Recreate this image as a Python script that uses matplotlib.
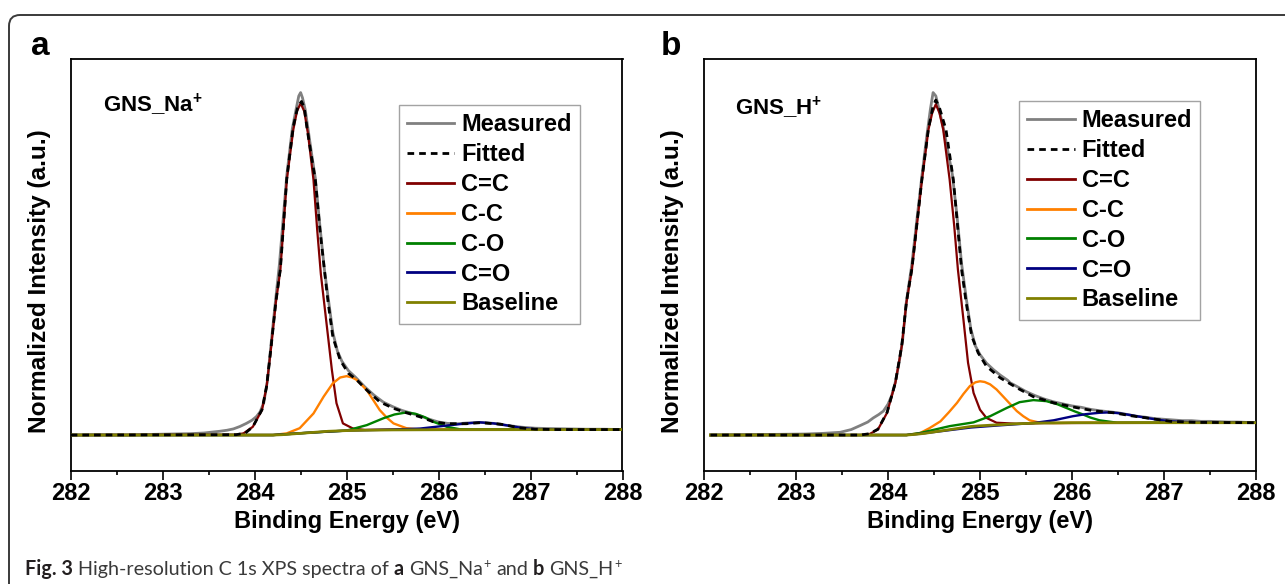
import matplotlib
matplotlib.use('Agg')
import matplotlib.pyplot as plt
from matplotlib.patches import FancyBboxPatch
from matplotlib.lines import Line2D
from matplotlib.ticker import MultipleLocator
from matplotlib.transforms import IdentityTransform

plt.rcParams['font.family'] = ['Liberation Sans', 'DejaVu Sans']
plt.rcParams['font.weight'] = 'bold'
plt.rcParams['mathtext.fontset'] = 'custom'
plt.rcParams['mathtext.rm'] = 'Liberation Sans:bold'
plt.rcParams['mathtext.bf'] = 'Liberation Sans:bold'
plt.rcParams['mathtext.it'] = 'Liberation Sans:bold'

# ---------------- Panel a : GNS_Na+ ----------------
a_meas_E = [282.0, 282.3, 282.6, 282.9, 283.1, 283.3, 283.45, 283.55, 283.62, 283.7, 283.77, 283.84,
            283.91, 283.97, 284.02, 284.06, 284.1, 284.14, 284.18, 284.23, 284.27, 284.31, 284.35,
            284.41, 284.45, 284.48, 284.5, 284.52, 284.55, 284.58, 284.62, 284.66, 284.71, 284.76,
            284.8, 284.85, 284.9, 284.95, 285.02, 285.1, 285.2, 285.3, 285.4, 285.5, 285.6, 285.7,
            285.8, 285.9, 286.0, 286.1, 286.2, 286.3, 286.45, 286.6, 286.75, 286.9, 287.05, 287.2,
            287.4, 287.6, 287.8, 288.0]
a_meas_I = [0.000, 0.001, 0.000, 0.002, 0.003, 0.004, 0.006, 0.009, 0.011, 0.014, 0.018, 0.025,
            0.034, 0.043, 0.054, 0.068, 0.095, 0.16, 0.27, 0.40, 0.50, 0.63, 0.76,
            0.895, 0.95, 0.99, 1.0, 0.985, 0.95, 0.895, 0.82, 0.75, 0.61, 0.48,
            0.40, 0.30, 0.245, 0.215, 0.188, 0.168, 0.14, 0.116, 0.096, 0.083, 0.072, 0.064,
            0.056, 0.046, 0.038, 0.034, 0.033, 0.035, 0.037, 0.034, 0.028, 0.023, 0.020, 0.019,
            0.018, 0.017, 0.017, 0.016]

a_fit_E = [282.0, 283.8, 283.9, 283.98, 284.08, 284.13, 284.18, 284.23, 284.28, 284.35, 284.42,
           284.47, 284.51, 284.54, 284.57, 284.62, 284.66, 284.71, 284.77, 284.8, 284.85, 284.93,
           285.02, 285.11, 285.22, 285.36, 285.51, 285.65, 285.8, 285.94, 286.09, 286.3, 286.45,
           286.67, 286.88, 287.05, 287.3, 288.0]
a_fit_I = [0.0, 0.001, 0.006, 0.024, 0.074, 0.142, 0.26, 0.387, 0.485, 0.75, 0.90,
           0.96, 0.974, 0.955, 0.895, 0.81, 0.745, 0.60, 0.455, 0.385, 0.287, 0.219,
           0.18, 0.161, 0.131, 0.097, 0.078, 0.065, 0.053, 0.039, 0.033, 0.033, 0.036,
           0.032, 0.021, 0.017, 0.016, 0.016]

a_cc_E = [282.0, 283.8, 283.88, 283.98, 284.08, 284.13, 284.18, 284.23, 284.28, 284.35, 284.42,
          284.46, 284.5, 284.54, 284.58, 284.64, 284.68, 284.72, 284.78, 284.84, 284.89, 284.96,
          285.07, 285.2, 285.5, 288.0]
a_cc_I = [0.0, 0.001, 0.005, 0.024, 0.073, 0.141, 0.258, 0.385, 0.482, 0.745, 0.891,
          0.945, 0.969, 0.945, 0.88, 0.745, 0.60, 0.47, 0.33, 0.19, 0.093, 0.034,
          0.019, 0.015, 0.016, 0.016]

a_c_c_E = [282.0, 284.2, 284.35, 284.49, 284.64, 284.75, 284.85, 284.93, 285.0, 285.06, 285.11,
           285.22, 285.29, 285.36, 285.44, 285.51, 285.65, 285.8, 288.0]
a_c_c_I = [0.0, 0.0, 0.005, 0.02, 0.063, 0.112, 0.151, 0.168, 0.172, 0.168, 0.161,
           0.131, 0.102, 0.073, 0.05, 0.034, 0.02, 0.016, 0.016]

a_co_E = [282.0, 284.2, 284.6, 285.0, 285.22, 285.4, 285.52, 285.65, 285.75, 285.85, 285.94,
          286.09, 286.23, 286.4, 288.0]
a_co_I = [0.0, 0.0, 0.007, 0.013, 0.029, 0.049, 0.06, 0.066, 0.062, 0.052, 0.039,
          0.024, 0.017, 0.016, 0.016]

a_cdo_E = [282.0, 284.2, 284.6, 285.0, 285.5, 285.8, 286.0, 286.2, 286.35, 286.45, 286.6,
           286.75, 286.9, 287.05, 287.3, 288.0]
a_cdo_I = [0.0, 0.0, 0.007, 0.013, 0.016, 0.019, 0.025, 0.031, 0.035, 0.037, 0.034,
           0.028, 0.021, 0.017, 0.016, 0.016]

a_base_E = [282.0, 284.2, 284.3, 284.4, 284.5, 284.6, 284.7, 284.8, 284.9, 285.0, 285.2, 285.5,
            286.0, 288.0]
a_base_I = [0.0, 0.0, 0.001, 0.003, 0.005, 0.007, 0.009, 0.011, 0.012, 0.013, 0.014, 0.015,
            0.0155, 0.016]

# ---------------- Panel b : GNS_H+ ----------------
b_meas_E = [282.07, 282.4, 282.8, 283.1, 283.3, 283.48, 283.6, 283.7, 283.78, 283.84, 283.9, 283.95,
            284.0, 284.04, 284.08, 284.12, 284.16, 284.2, 284.26, 284.31, 284.37, 284.42, 284.46,
            284.49, 284.52, 284.56, 284.6, 284.65, 284.7, 284.75, 284.8, 284.85, 284.9, 284.95,
            285.0, 285.07, 285.15, 285.22, 285.3, 285.33, 285.36, 285.4, 285.5, 285.6, 285.7,
            285.8, 285.9, 286.0, 286.1, 286.2, 286.3, 286.4, 286.5, 286.6, 286.7, 286.8, 286.9,
            287.0, 287.1, 287.2, 287.3, 287.4, 287.5, 287.6, 287.7, 287.8, 287.9, 288.0]
b_meas_I = [0.0, 0.001, 0.002, 0.003, 0.005, 0.008, 0.016, 0.028, 0.038, 0.05, 0.06, 0.07,
            0.09, 0.115, 0.155, 0.21, 0.28, 0.39, 0.50, 0.62, 0.76, 0.87, 0.95,
            1.0, 0.99, 0.945, 0.9, 0.83, 0.76, 0.64, 0.50, 0.40, 0.31, 0.26,
            0.235, 0.21, 0.19, 0.175, 0.16, 0.152, 0.148, 0.142, 0.127, 0.115, 0.105,
            0.097, 0.091, 0.085, 0.081, 0.075, 0.071, 0.068, 0.065, 0.06, 0.055, 0.052, 0.048,
            0.046, 0.044, 0.042, 0.042, 0.04, 0.040, 0.039, 0.038, 0.038, 0.037, 0.037]

b_fit_E = [282.07, 283.7, 283.8, 283.89, 283.99, 284.08, 284.15, 284.2, 284.26, 284.37, 284.44,
           284.49, 284.52, 284.56, 284.63, 284.71, 284.76, 284.8, 284.85, 284.91, 284.98, 285.07,
           285.22, 285.4, 285.58, 285.8, 286.01, 286.23, 286.45, 286.65, 286.81, 287.07, 287.36,
           288.0]
b_fit_I = [0.0, 0.0, 0.004, 0.017, 0.066, 0.153, 0.262, 0.388, 0.486, 0.75, 0.895,
           0.96, 0.978, 0.955, 0.892, 0.746, 0.6, 0.483, 0.386, 0.289, 0.24, 0.201,
           0.167, 0.138, 0.112, 0.094, 0.082, 0.071, 0.065, 0.056, 0.05, 0.04, 0.037,
           0.036]

b_cc_E = [282.07, 283.7, 283.8, 283.89, 283.99, 284.08, 284.15, 284.2, 284.26, 284.37, 284.44,
          284.48, 284.52, 284.56, 284.6, 284.67, 284.72, 284.76, 284.82, 284.87, 284.93, 285.0,
          285.07, 285.18, 285.4, 285.7, 288.0]
b_cc_I = [0.0, 0.0, 0.003, 0.016, 0.065, 0.152, 0.26, 0.386, 0.483, 0.746, 0.892,
          0.94, 0.966, 0.94, 0.892, 0.746, 0.61, 0.483, 0.337, 0.211, 0.123, 0.074,
          0.05, 0.036, 0.033, 0.035, 0.036]

b_c_c_E = [282.07, 284.2, 284.35, 284.45, 284.57, 284.66, 284.75, 284.82, 284.89, 284.95, 285.0,
           285.05, 285.11, 285.18, 285.25, 285.33, 285.4, 285.47, 285.54, 285.65, 285.8, 286.2,
           288.0]
b_c_c_I = [0.0, 0.0, 0.006, 0.02, 0.04, 0.066, 0.094, 0.12, 0.143, 0.154, 0.157,
           0.155, 0.148, 0.133, 0.113, 0.09, 0.07, 0.055, 0.043, 0.036, 0.035, 0.036,
           0.036]

b_co_E = [282.07, 284.2, 284.35, 284.67, 284.93, 285.11, 285.29, 285.43, 285.58, 285.72, 285.84,
          285.94, 286.03, 286.12, 286.2, 286.3, 286.49, 286.8, 288.0]
b_co_I = [0.0, 0.0, 0.006, 0.026, 0.037, 0.055, 0.079, 0.096, 0.102, 0.099, 0.09,
          0.079, 0.069, 0.06, 0.051, 0.043, 0.036, 0.036, 0.036]

b_cdo_E = [282.07, 284.2, 284.35, 284.6, 284.9, 285.2, 285.58, 285.8, 286.01, 286.15, 286.3,
           286.4, 286.5, 286.6, 286.81, 286.95, 287.07, 287.3, 288.0]
b_cdo_I = [0.0, 0.0, 0.004, 0.012, 0.022, 0.028, 0.035, 0.043, 0.055, 0.061, 0.065,
           0.066, 0.064, 0.06, 0.05, 0.044, 0.04, 0.037, 0.036]

b_base_E = [282.07, 284.2, 284.3, 284.4, 284.5, 284.6, 284.7, 284.8, 284.9, 285.0, 285.2, 285.4,
            285.65, 286.0, 288.0]
b_base_I = [0.0, 0.0, 0.002, 0.005, 0.009, 0.013, 0.017, 0.021, 0.025, 0.027, 0.030, 0.033,
            0.035, 0.036, 0.036]

legend_labels = ['Measured', 'Fitted', 'C=C', 'C-C', 'C-O', 'C=O', 'Baseline']
x_ticks = [282, 283, 284, 285, 286, 287, 288]

# ---------------- figure ----------------
W, H = 1285, 584
fig = plt.figure(figsize=(W / 100, H / 100), dpi=100)


def rect(l, r, t, b):
    return [l / W, 1 - b / H, (r - l) / W, (b - t) / H]


axA = fig.add_axes(rect(70.7, 622.5, 59, 471))
axB = fig.add_axes(rect(704, 1256, 59, 471))

C_MEAS = '#808080'
C_FIT = 'black'
C_CC = '#800000'
C_C_C = '#ff8000'
C_CO = '#008000'
C_CDO = '#000080'
C_BASE = '#808000'
DASH = (0, (2.4, 1.8))


def draw(ax, meas, fit, cc, c_c, co, cdo, base, name, name_pos, leg_pos):
    ax.plot(*meas, color=C_MEAS, lw=2.0, zorder=2)
    ax.plot(*cc, color=C_CC, lw=1.6, zorder=3)
    ax.plot(*c_c, color=C_C_C, lw=1.7, zorder=3)
    ax.plot(*co, color=C_CO, lw=1.7, zorder=3)
    ax.plot(*cdo, color=C_CDO, lw=1.7, zorder=3)
    ax.plot(*base, color=C_BASE, lw=2.0, zorder=4)
    ax.plot(*fit, color=C_FIT, lw=2.0, ls=DASH, zorder=5)
    ax.set_xlim(282, 288)
    ax.set_ylim(-0.105, 1.098)
    ax.set_xticks(x_ticks)
    ax.set_xticklabels([str(t) for t in x_ticks])
    ax.xaxis.set_minor_locator(MultipleLocator(0.5))
    ax.set_yticks([])
    ax.tick_params(axis='x', which='major', direction='out', length=6.3, width=1.2,
                   pad=1.5, labelsize=17)
    ax.tick_params(axis='x', which='minor', direction='out', length=2.8, width=1.2)
    for lbl in ax.get_xticklabels():
        lbl.set_fontweight('bold')
    for s in ax.spines.values():
        s.set_linewidth(1.3)
    ax.set_xlabel('Binding Energy (eV)', fontsize=17, fontweight='bold', labelpad=3.6)
    ax.set_ylabel('Normalized Intensity (a.u.)', fontsize=17.6, fontweight='bold')
    ax.yaxis.set_label_coords(-0.036, 0.462)
    ax.text(name_pos[0], name_pos[1], name, transform=ax.transAxes, fontsize=16,
            fontweight='bold', va='baseline', ha='left')
    handles = [Line2D([], [], color=C_MEAS, lw=2.0),
               Line2D([], [], color=C_FIT, lw=2.0, ls=DASH),
               Line2D([], [], color=C_CC, lw=2.0),
               Line2D([], [], color=C_C_C, lw=2.0),
               Line2D([], [], color=C_CO, lw=2.0),
               Line2D([], [], color=C_CDO, lw=2.0),
               Line2D([], [], color=C_BASE, lw=2.0)]
    leg = ax.legend(handles, legend_labels, loc='upper left', bbox_to_anchor=leg_pos,
                    borderaxespad=0, frameon=True, fancybox=False, edgecolor='#8c8c8c',
                    prop={'weight': 'bold', 'size': 17}, handlelength=2.0,
                    handletextpad=0.3, labelspacing=0.29, borderpad=0.35)
    leg.get_frame().set_linewidth(1.0)


draw(axA, (a_meas_E, a_meas_I), (a_fit_E, a_fit_I), (a_cc_E, a_cc_I), (a_c_c_E, a_c_c_I),
     (a_co_E, a_co_I), (a_cdo_E, a_cdo_I), (a_base_E, a_base_I),
     'GNS_Na$^{+}$', (0.0585, 0.871), (0.5944, 0.888))
draw(axB, (b_meas_E, b_meas_I), (b_fit_E, b_fit_I), (b_cc_E, b_cc_I), (b_c_c_E, b_c_c_I),
     (b_co_E, b_co_I), (b_cdo_E, b_cdo_I), (b_base_E, b_base_I),
     'GNS_H$^{+}$', (0.0556, 0.864), (0.5707, 0.898))

# panel letters
fig.text(30.6 / W, 1 - 55 / H, 'a', fontsize=24, fontweight='bold', va='baseline', ha='left')
fig.text(660.4 / W, 1 - 55 / H, 'b', fontsize=24, fontweight='bold', va='baseline', ha='left')

# rounded outer border
border = FancyBboxPatch((9, -60), 1500, (H - 15) + 60,
                        boxstyle='round,pad=0,rounding_size=11',
                        transform=IdentityTransform(), fill=False,
                        ec='#3a3a3a', lw=1.4)
fig.add_artist(border)

# caption
renderer = fig.canvas.get_renderer()
cap_font = ['Lato', 'DejaVu Sans']
cap_size = 14.2
base_y = 575


def width_of(s, **kw):
    t = fig.text(0, 0, s, **kw)
    w = t.get_window_extent(renderer=renderer).width
    t.remove()
    return w


normal_kw = dict(family=cap_font, fontsize=cap_size, fontweight='normal', color='#3a3a3a')
bold_kw = dict(family=cap_font, fontsize=cap_size, fontweight='bold', color='#231f20')
sup_kw = dict(family=cap_font, fontsize=cap_size * 0.65, fontweight='normal', color='#3a3a3a')
space = width_of('n n', **normal_kw) - width_of('nn', **normal_kw)

pieces = [('Fig. 3', bold_kw, 0, True),
          ('High-resolution C 1s XPS spectra of', normal_kw, 0, True),
          ('a', bold_kw, 0, True),
          ('GNS_Na', normal_kw, 0, False),
          ('+', sup_kw, 7, True),
          ('and', normal_kw, 0, True),
          ('b', bold_kw, 0, True),
          ('GNS_H', normal_kw, 0, False),
          ('+', sup_kw, 7, False)]
x = 25.0
for txt, kw, dy, gap in pieces:
    t = fig.text(x / W, 1 - (base_y - dy) / H, txt, va='baseline', ha='left', **kw)
    x += t.get_window_extent(renderer=renderer).width + (space if gap else 1)

fig.savefig('out.png', dpi=100)
